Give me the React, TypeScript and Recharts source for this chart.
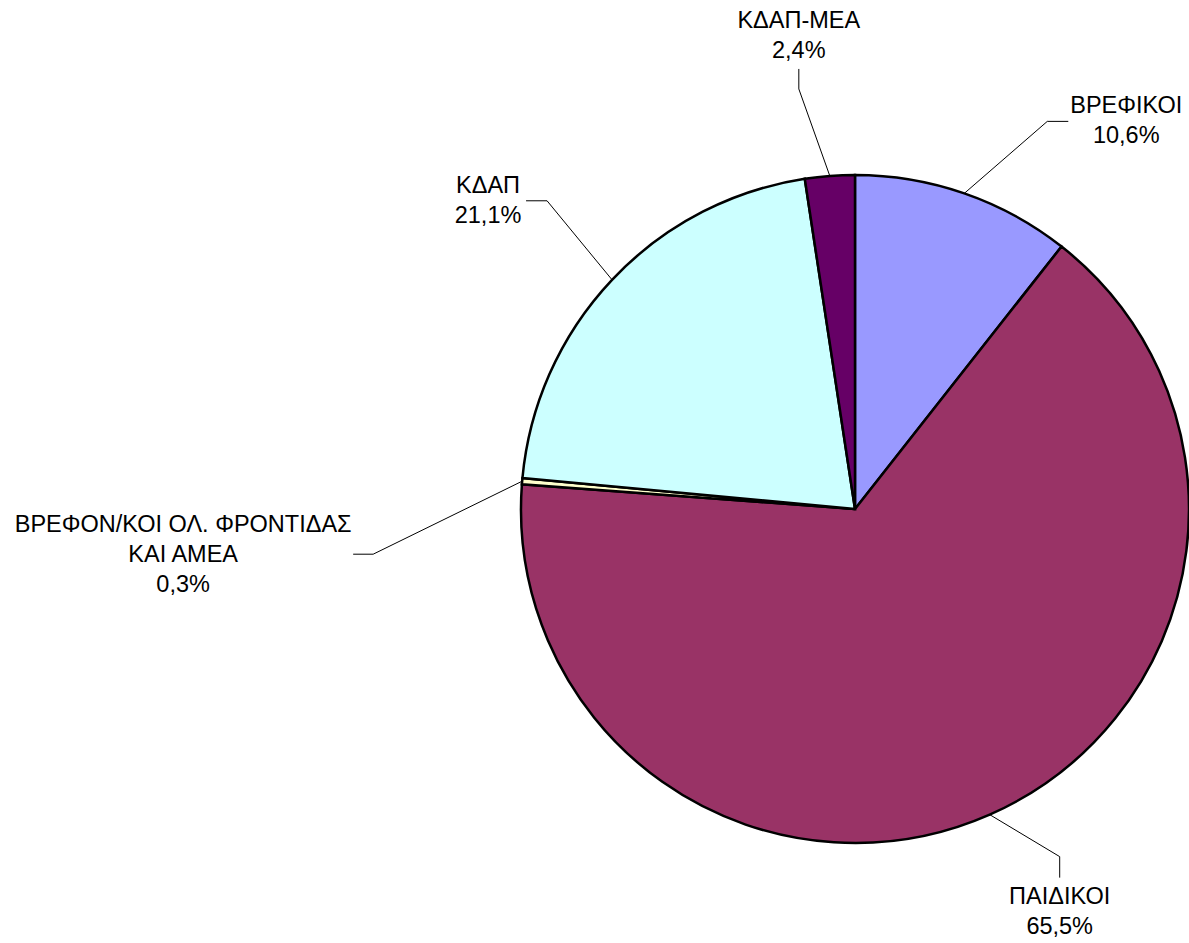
import React from 'react';
import { PieChart, Pie, Cell } from 'recharts';

const categories = [
  'ΒΡΕΦΙΚΟΙ',
  'ΠΑΙΔΙΚΟΙ',
  'ΒΡΕΦΟΝ/ΚΟΙ ΟΛ. ΦΡΟΝΤΙΔΑΣ\nΚΑΙ ΑΜΕΑ',
  'ΚΔΑΠ',
  'ΚΔΑΠ-ΜΕΑ',
];
const shares = [10.6, 65.5, 0.3, 21.1, 2.4];
const colors = ['#9999FF', '#993366', '#FFFFCC', '#CCFFFF', '#660066'];

// leader line / text placement, relative to the point where the slice's mid-angle meets the rim
const labelLayout = [
  { elbow: [83, -72], end: [104, -72], tx: 162, ty: -80 },
  { elbow: [70, 42], end: [70, 63], tx: 70, ty: 89 },
  { elbow: [-149, 73], end: [-169, 73], tx: -339, ty: 51 },
  { elbow: [-65, -79], end: [-86, -79], tx: -124, ty: -87 },
  { elbow: [-31, -87], end: [-31, -107], tx: -31, ty: -148 },
];

const data = categories.map((name, i) => ({ name, value: shares[i] }));

const RADIAN = Math.PI / 180;
const FONT = '"Liberation Sans", Arial, sans-serif';
const LINE_H = 30;

const renderLabel = (props: any) => {
  const { cx, cy, midAngle, outerRadius, index } = props;
  const ex = cx + outerRadius * Math.cos(-midAngle * RADIAN);
  const ey = cy + outerRadius * Math.sin(-midAngle * RADIAN);
  const l = labelLayout[index];
  const lines = [...categories[index].split('\n'), shares[index].toFixed(1).replace('.', ',') + '%'];
  return (
    <g>
      <polyline
        points={`${ex},${ey} ${ex + l.elbow[0]},${ey + l.elbow[1]} ${ex + l.end[0]},${ey + l.end[1]}`}
        fill="none"
        stroke="#000"
        strokeWidth={1}
      />
      {lines.map((t, k) => (
        <text
          key={k}
          x={ex + l.tx}
          y={ey + l.ty + k * LINE_H}
          textAnchor="middle"
          fill="#000"
          fontSize={23.5}
          fontFamily={FONT}
        >
          {t}
        </text>
      ))}
    </g>
  );
};

export default function App() {
  return (
    <div style={{ position: 'absolute', left: 0, top: 0, width: 1189, height: 943, background: '#fff' }}>
      <PieChart width={1189} height={943} margin={{ top: 0, right: 0, bottom: 0, left: 0 }}>
        <Pie
          data={data}
          dataKey="value"
          nameKey="name"
          cx={855}
          cy={509}
          outerRadius={334}
          startAngle={90}
          endAngle={-270}
          stroke="#000"
          strokeWidth={2.5}
          label={renderLabel}
          labelLine={false}
          isAnimationActive={false}
        >
          {data.map((d, i) => (
            <Cell key={d.name} fill={colors[i]} />
          ))}
        </Pie>
      </PieChart>
    </div>
  );
}
